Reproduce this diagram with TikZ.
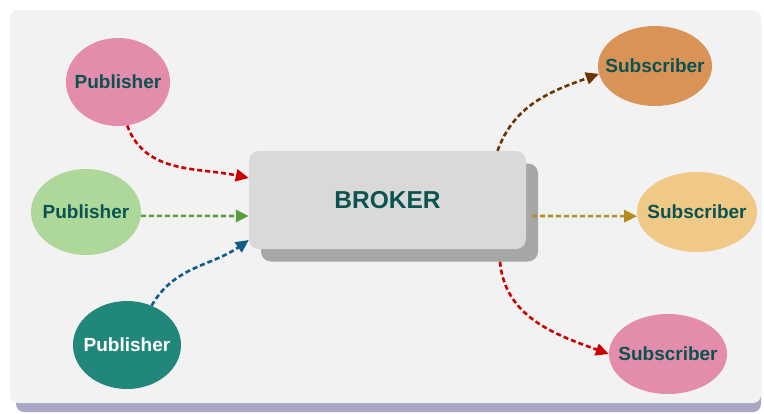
\documentclass[tikz,border=0pt]{standalone}
\usepackage{fontspec}
\setmainfont{Liberation Sans}
\usetikzlibrary{shapes.geometric,arrows.meta,positioning,calc}

\definecolor{panelbg}{HTML}{F2F2F2}
\definecolor{panelsh}{HTML}{A8A8C6}
\definecolor{brokerbg}{HTML}{D9D9D9}
\definecolor{brokersh}{HTML}{A6A6A6}
\definecolor{tealtext}{HTML}{0B5351}
\definecolor{pinkfill}{HTML}{E38CAC}
\definecolor{greenfill}{HTML}{ADD899}
\definecolor{tealfill}{HTML}{21877A}
\definecolor{orangefill}{HTML}{D99356}
\definecolor{sandfill}{HTML}{F0C986}
\definecolor{redline}{HTML}{CC0000}
\definecolor{greenline}{HTML}{5B9E3B}
\definecolor{blueline}{HTML}{0F5C8A}
\definecolor{brownline}{HTML}{6B3400}
\definecolor{goldline}{HTML}{B38B1F}

% label of fixed zero width, so the ellipse keeps its given size
\newcommand{\clientlabel}[1]{\makebox[0pt][c]{#1}}

\begin{document}
\begin{tikzpicture}[
    x=1pt, y=-1pt,
    client/.style={ellipse, inner sep=0pt, font=\bfseries\fontsize{19}{22}\selectfont, text=tealtext},
    brokerbox/.style={rectangle, rounded corners=10pt, minimum width=277pt, minimum height=98pt, inner sep=0pt},
    flow/.style={-{Triangle[length=13pt,width=12pt]}, line width=2.6pt, dash pattern=on 5pt off 3pt}
]
\useasboundingbox (0,0) rectangle (764,413);

% Panel
\fill[panelsh, rounded corners=8pt] (16,18) rectangle (761,412);
\fill[panelbg, rounded corners=8pt] (10,10) rectangle (761,403);

% Broker
\node[brokerbox, fill=brokersh] (brokerbk) at (399.5,212.5) {};
\node[brokerbox, fill=brokerbg, font=\bfseries\fontsize{24.5}{28}\selectfont, text=tealtext] (broker) at (387.5,200) {BROKER};

% Publishers
\node[client, fill=pinkfill, minimum width=104pt, minimum height=88pt] (pubA) at (118,82) {\clientlabel{Publisher}};
\node[client, fill=greenfill, minimum width=110pt, minimum height=86pt] (pubB) at (86,212) {\clientlabel{Publisher}};
\node[client, fill=tealfill, minimum width=108pt, minimum height=88pt, text=white] (pubC) at (127,345) {\clientlabel{Publisher}};

% Subscribers
\node[client, fill=orangefill, minimum width=114pt, minimum height=80pt] (subA) at (655,66) {\clientlabel{Subscriber}};
\node[client, fill=sandfill, minimum width=120pt, minimum height=80pt] (subB) at (697,212) {\clientlabel{Subscriber}};
\node[client, fill=pinkfill, minimum width=118pt, minimum height=80pt] (subC) at (668,354) {\clientlabel{Subscriber}};

% Arrows
\draw[flow, redline] (pubA.-78) to[out=-70, in=168] ([yshift=22pt]broker.west);
\draw[flow, greenline] (pubB.-4) -- ([yshift=-16pt]broker.west);
\draw[flow, blueline] (pubC.58) to[out=60, in=-145] ([yshift=-40pt]broker.west);
\draw[flow, brownline] ([xshift=110pt]broker.north) to[out=70, in=-160] (subA.188);
\draw[flow, goldline] ([xshift=-6pt, yshift=-3.5pt]brokerbk.east) -- (subB.184);
\draw[flow, redline] ([xshift=100.5pt]brokerbk.south) to[out=-85, in=160] (subC.west);

\end{tikzpicture}
\end{document}
